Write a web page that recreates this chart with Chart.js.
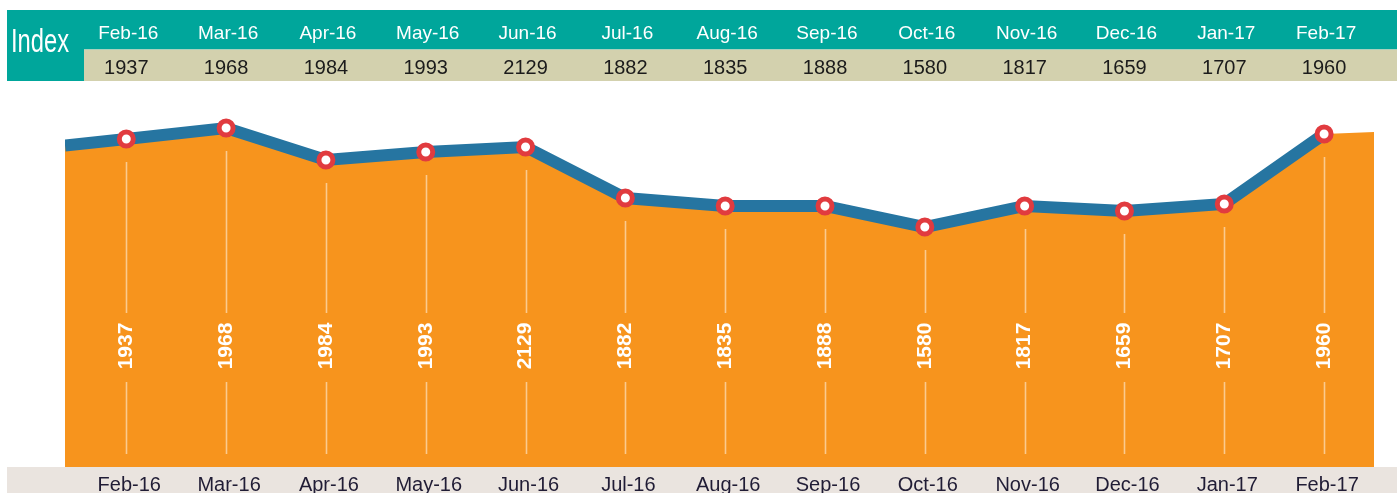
<!DOCTYPE html>
<html><head><meta charset="utf-8">
<script src="https://cdn.jsdelivr.net/npm/chart.js@4"></script>
<style>html,body{margin:0;padding:0;background:#fff;overflow:hidden}canvas{display:block}</style>
</head><body>
<canvas id="c" width="1397" height="493"></canvas>
<script>
// ---- data ----
const categories = ['Feb-16','Mar-16','Apr-16','May-16','Jun-16','Jul-16','Aug-16','Sep-16','Oct-16','Nov-16','Dec-16','Jan-17','Feb-17'];
const indexValues = [1937, 1968, 1984, 1993, 2129, 1882, 1835, 1888, 1580, 1817, 1659, 1707, 1960];
// plotted curve heights as drawn in the picture (arbitrary chart units)
const curveValues = [328, 339, 307, 315, 320, 269, 261, 261, 240, 261, 256, 263, 333];
const leftEdgeValue = 321.5;
const rightEdgeValue = 335;
const headerTitle = 'Index';

// ---- config ----
const FONT = "'Liberation Sans', Arial, sans-serif";
const xMin = -0.614, xMax = 12.5;
const pts = curveValues.map((v, i) => ({x: i, y: v}));
const areaData = [{x: xMin, y: leftEdgeValue}, ...pts, {x: xMax, y: rightEdgeValue}];
const lineData = [{x: xMin, y: leftEdgeValue}, ...pts];

const decor = {
  id: 'decor',
  beforeDraw(chart) {
    const ctx = chart.ctx, xs = chart.scales.x;
    ctx.save();
    // header
    ctx.fillStyle = '#00A69B';
    ctx.fillRect(7, 10, 77, 71);
    ctx.fillRect(84, 10, 1313, 39.5);
    ctx.fillStyle = '#D3D1AE';
    ctx.fillRect(84, 49.5, 1313, 31.5);
    // bottom strip
    ctx.fillStyle = '#EAE4DF';
    ctx.fillRect(7, 467, 1390, 26);
    // header title
    ctx.save();
    ctx.translate(40, 51.5);
    ctx.scale(0.72, 1);
    ctx.fillStyle = '#ffffff';
    ctx.font = '33px ' + FONT;
    ctx.textAlign = 'center';
    ctx.textBaseline = 'alphabetic';
    ctx.fillText(headerTitle, 0, 0);
    ctx.restore();
    ctx.textAlign = 'center';
    ctx.textBaseline = 'alphabetic';
    categories.forEach((c, i) => {
      const px = xs.getPixelForValue(i);
      ctx.fillStyle = '#ffffff';
      ctx.font = '19px ' + FONT;
      ctx.fillText(c, px + 2, 38.5);
      ctx.fillStyle = '#1b1b1b';
      ctx.font = '20px ' + FONT;
      ctx.fillText(String(indexValues[i]), px, 74);
      ctx.fillStyle = '#201c35';
      ctx.font = '20px ' + FONT;
      ctx.fillText(c, px + 3, 491);
    });
    ctx.restore();
  },
  afterDatasetsDraw(chart) {
    const ctx = chart.ctx, xs = chart.scales.x, ys = chart.scales.y;
    ctx.save();
    ctx.strokeStyle = 'rgba(255,255,255,0.5)';
    ctx.lineWidth = 1.6;
    curveValues.forEach((v, i) => {
      const px = Math.round(xs.getPixelForValue(i)) + 0.5;
      const py = ys.getPixelForValue(v);
      ctx.beginPath();
      ctx.moveTo(px, py + 23);
      ctx.lineTo(px, 313);
      ctx.moveTo(px, 382);
      ctx.lineTo(px, 454);
      ctx.stroke();
      ctx.save();
      ctx.translate(xs.getPixelForValue(i), 346);
      ctx.rotate(-Math.PI / 2);
      ctx.fillStyle = '#ffffff';
      ctx.font = 'bold 21px ' + FONT;
      ctx.textAlign = 'center';
      ctx.textBaseline = 'middle';
      ctx.fillText(String(indexValues[i]), 0, 0);
      ctx.restore();
    });
    ctx.restore();
  }
};

new Chart(document.getElementById('c'), {
  type: 'line',
  data: {
    datasets: [
      {
        label: 'markers', data: pts, order: 0, showLine: false,
        pointRadius: 7, pointBorderWidth: 5,
        pointBackgroundColor: '#ffffff', pointBorderColor: '#E13B3F'
      },
      {
        label: 'line', data: lineData, order: 1, fill: false,
        borderColor: '#2675A1', borderWidth: 12, pointRadius: 0,
        borderJoinStyle: 'miter', borderCapStyle: 'butt', tension: 0
      },
      {
        label: 'area', data: areaData, order: 2, fill: 'origin',
        backgroundColor: '#F7941D', borderWidth: 0, borderColor: 'rgba(0,0,0,0)',
        pointRadius: 0, tension: 0
      }
    ]
  },
  options: {
    responsive: false,
    animation: false,
    events: [],
    layout: {padding: {left: 65, right: 23, top: 90, bottom: 26}},
    plugins: {legend: {display: false}, tooltip: {enabled: false}},
    scales: {
      x: {type: 'linear', min: xMin, max: xMax, display: false},
      y: {min: 0, max: 377, display: false}
    }
  },
  plugins: [decor]
});
</script>
</body></html>
